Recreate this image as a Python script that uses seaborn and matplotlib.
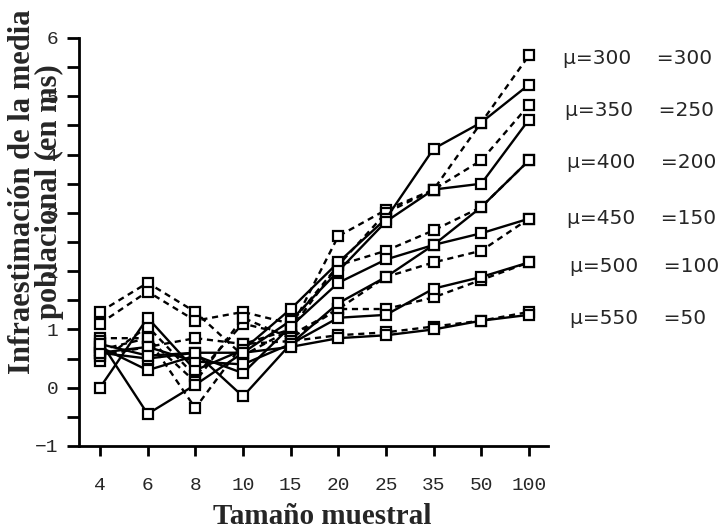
import numpy as np
import pandas as pd
import matplotlib
matplotlib.use("Agg")
import matplotlib.pyplot as plt
from matplotlib.ticker import MultipleLocator
import seaborn as sns

# tamaños muestrales (eje x categórico)
tamanos = ["4", "6", "8", "10", "15", "20", "25", "35", "50", "100"]

# infraestimación (ms), líneas continuas y discontinuas por cada par mu/sigma
s300 = [0.0, 1.2, 0.3, 0.65, 1.35, 2.15, 2.9, 4.1, 4.55, 5.2]
d300 = [1.3, 1.8, 1.3, 0.55, 1.0, 2.6, 3.05, 3.4, 4.55, 5.7]
s350 = [0.8, -0.45, 0.05, 0.6, 1.15, 2.0, 2.85, 3.4, 3.5, 4.6]
d350 = [1.1, 1.65, 1.15, 1.3, 1.1, 2.1, 3.0, 3.4, 3.9, 4.85]
s400 = [0.7, 0.3, 0.55, 0.25, 1.05, 1.8, 2.2, 2.45, 3.1, 3.9]
d400 = [0.85, 0.85, -0.35, 0.75, 1.0, 2.1, 2.35, 2.7, 3.1, 3.9]
s450 = [0.6, 0.5, 0.6, -0.15, 0.75, 1.45, 1.9, 2.45, 2.65, 2.9]
d450 = [0.45, 1.05, 0.2, 1.1, 0.9, 1.35, 1.9, 2.15, 2.35, 2.9]
s500 = [0.6, 0.7, 0.45, 0.4, 0.75, 1.2, 1.25, 1.7, 1.9, 2.15]
d500 = [0.65, 0.85, 0.1, 1.2, 0.85, 1.35, 1.35, 1.55, 1.85, 2.15]
s550 = [0.75, 0.55, 0.6, 0.6, 0.7, 0.85, 0.9, 1.0, 1.15, 1.25]
d550 = [0.55, 0.7, 0.85, 0.75, 0.8, 0.9, 0.95, 1.05, 1.15, 1.3]

continuas = [s300, s350, s400, s450, s500, s550]
discontinuas = [d300, d350, d400, d450, d500, d550]

etiquetas = ["μ=300    =300", "μ=350    =250", "μ=400    =200",
             "μ=450    =150", "μ=500    =100", "μ=550    =50"]

sns.set_style("ticks")
plt.rcParams["font.family"] = ["DejaVu Sans"]

fig = plt.figure(figsize=(7.28, 5.31), dpi=100)
ax = fig.add_axes([79 / 728, 1 - 446 / 531, (548 - 79) / 728, (446 - 38) / 531])

estilo = dict(color="black", marker="s", markersize=7, markerfacecolor="white",
              markeredgecolor="black", markeredgewidth=1.6, linewidth=1.7)

for vals in discontinuas:
    df = pd.DataFrame({"n": tamanos, "v": vals})
    sns.lineplot(data=df, x="n", y="v", ax=ax, sort=False,
                 linestyle=(0, (2.6, 2.0)), **estilo)
for vals in continuas:
    df = pd.DataFrame({"n": tamanos, "v": vals})
    sns.lineplot(data=df, x="n", y="v", ax=ax, sort=False, linestyle="-", **estilo)

ax.set_xlim(-0.44, 9.4)
ax.set_ylim(-1, 6)
ax.yaxis.set_major_locator(MultipleLocator(1))
ax.yaxis.set_minor_locator(MultipleLocator(0.5))
ax.set_xlabel("")
ax.set_ylabel("")

sns.despine(ax=ax)
for s in ["left", "bottom"]:
    ax.spines[s].set_linewidth(2)
    ax.spines[s].set_color("black")

ax.tick_params(axis="both", which="both", direction="out", width=2, color="black")
ax.tick_params(axis="y", which="both", length=9, pad=6)
ax.tick_params(axis="x", length=7, pad=15)
for lab in ax.get_xticklabels() + ax.get_yticklabels():
    lab.set_fontfamily("Liberation Mono")
    lab.set_fontsize(14)

# el rótulo del eje y se solapa con los números, igual que en el original
fig.text(36 / 728, 1 - 192 / 531,
         "Infraestimación de la media\npoblacional (en ms)",
         rotation=90, ha="center", va="center", multialignment="center",
         family="Liberation Serif", fontweight="bold", fontsize=22,
         linespacing=0.92)
fig.text(322 / 728, 1 - 516 / 531, "Tamaño muestral", ha="center", va="center",
         family="Liberation Serif", fontweight="bold", fontsize=21)

etiq_x = [563, 565, 567, 567, 570, 570]
etiq_y = [59, 111, 162, 219, 267, 319]
for txt, px, py in zip(etiquetas, etiq_x, etiq_y):
    fig.text(px / 728, 1 - py / 531, txt, ha="left", va="center",
             family="DejaVu Sans", fontsize=14.5)

fig.savefig("out.png", dpi=100)
